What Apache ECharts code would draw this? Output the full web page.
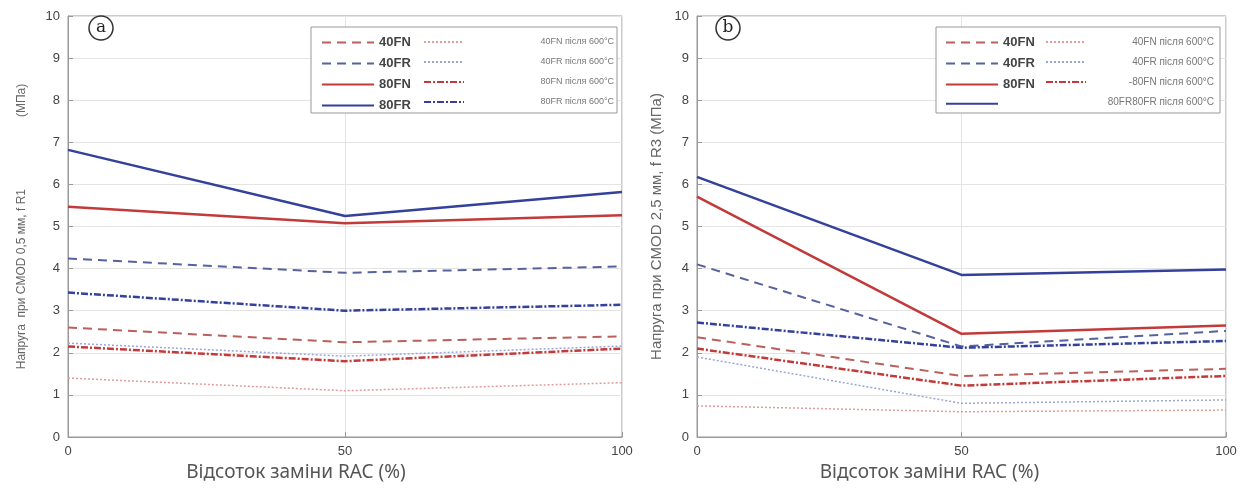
<!DOCTYPE html>
<html>
<head>
<meta charset="utf-8">
<script src="https://cdn.jsdelivr.net/npm/echarts@6/dist/echarts.min.js"></script>
<style>
  html, body { margin: 0; padding: 0; background: #fff; }
  #main { width: 1254px; height: 496px; }
</style>
</head>
<body>
<div id="main"></div>
<script>
// відсоток заміни RAC
var xs = [0, 50, 100];

// (a) CMOD 0,5 мм, f R1
var a40FN = [2.6, 2.25, 2.39];
var a40FR = [4.24, 3.9, 4.05];
var a80FN = [5.47, 5.08, 5.27];
var a80FR = [6.82, 5.25, 5.82];
var a40FN600 = [1.4, 1.1, 1.29];
var a40FR600 = [2.23, 1.92, 2.16];
var a80FN600 = [2.15, 1.8, 2.1];
var a80FR600 = [3.43, 3.0, 3.14];

// (b) CMOD 2,5 мм, f R3
var b40FN = [2.37, 1.45, 1.62];
var b40FR = [4.1, 2.15, 2.52];
var b80FN = [5.71, 2.45, 2.65];
var b80FR = [6.18, 3.85, 3.98];
var b40FN600 = [0.74, 0.6, 0.64];
var b40FR600 = [1.9, 0.8, 0.88];
var b80FN600 = [2.1, 1.22, 1.45];
var b80FR600 = [2.72, 2.12, 2.28];

var RED = '#c23a3a', BLUE = '#34419c';
var RED_D = '#b9605c', BLUE_D = '#56629f';
var RED_L = '#e29c9c', BLUE_L = '#9aa6d6';
var DASH = [9, 6], DOT = [2, 2], DASHDOT = [7, 2, 2, 2];

function pairs(v) { return xs.map(function (x, i) { return [x, v[i]]; }); }

function mk(name, data, color, type, width, idx) {
  return {
    name: name, type: 'line', xAxisIndex: idx, yAxisIndex: idx,
    data: pairs(data), symbol: 'none', silent: true, animation: false,
    lineStyle: { color: color, type: type, width: width },
    itemStyle: { color: color }
  };
}

var series = [
  mk('40FN', a40FN, RED_D, DASH, 2, 0),
  mk('40FR', a40FR, BLUE_D, DASH, 2, 0),
  mk('80FN', a80FN, RED, 'solid', 2.5, 0),
  mk('80FR', a80FR, BLUE, 'solid', 2.5, 0),
  mk('40FN після 600°C', a40FN600, RED_L, DOT, 1.5, 0),
  mk('40FR після 600°C', a40FR600, BLUE_L, DOT, 1.5, 0),
  mk('80FN після 600°C', a80FN600, RED, DASHDOT, 2.5, 0),
  mk('80FR після 600°C', a80FR600, BLUE, DASHDOT, 2.5, 0),

  mk('40FN ', b40FN, RED_D, DASH, 2, 1),
  mk('40FR ', b40FR, BLUE_D, DASH, 2, 1),
  mk('80FN ', b80FN, RED, 'solid', 2.5, 1),
  mk('80FR ', b80FR, BLUE, 'solid', 2.5, 1),
  mk('40FN після 600°C ', b40FN600, RED_L, DOT, 1.5, 1),
  mk('40FR після 600°C ', b40FR600, BLUE_L, DOT, 1.5, 1),
  mk('-80FN після 600°C ', b80FN600, RED, DASHDOT, 2.5, 1),
  mk('80FR80FR після 600°C ', b80FR600, BLUE, DASHDOT, 2.5, 1)
];

function xAx(idx, shift) {
  return {
    type: 'value', gridIndex: idx, min: 0, max: 100, interval: 50,
    name: 'Відсоток заміни RAC (%)', nameLocation: 'middle', nameGap: 22,
    nameTextStyle: { fontSize: 19, color: '#555', fontFamily: 'Noto Sans', padding: [0, shift, 0, 0] },
    axisLine: { show: true, lineStyle: { color: '#999' } },
    axisTick: { show: true, inside: true, length: 5, lineStyle: { color: '#999' } },
    axisLabel: { color: '#444', fontSize: 13, margin: 8, fontFamily: 'Liberation Sans' },
    splitLine: { show: true, lineStyle: { color: '#e4e4e4' } }
  };
}
function yAx(idx, name, size, gap) {
  return {
    type: 'value', gridIndex: idx, min: 0, max: 10, interval: 1,
    name: name, nameLocation: 'middle', nameGap: gap,
    nameTextStyle: { fontSize: size, color: '#666', fontFamily: 'Liberation Sans' },
    axisLine: { show: true, lineStyle: { color: '#999' } },
    axisTick: { show: true, inside: true, length: 5, lineStyle: { color: '#999' } },
    axisLabel: { color: '#444', fontSize: 13, margin: 8, fontFamily: 'Liberation Sans' },
    splitLine: { show: true, lineStyle: { color: '#e4e4e4' } }
  };
}

function legendCol(names, left, w, bold, size, tw, fmt) {
  var ts = { fontSize: size, fontWeight: bold ? 'bold' : 'normal', color: bold ? '#444' : '#777',
    fontFamily: 'Liberation Sans', lineHeight: 12 };
  if (tw) {
    ts.rich = { r: { width: tw, align: 'right', fontSize: size, color: '#777', lineHeight: 12 } };
  }
  return {
    orient: 'vertical', left: left, top: 31, itemWidth: w, itemHeight: 12, itemGap: 8,
    selectedMode: false, data: names,
    formatter: function (n) {
      var t = fmt ? fmt(n) : n;
      return tw ? '{r|' + t + '}' : t;
    },
    itemStyle: { opacity: 0 },
    textStyle: ts
  };
}

var option = {
  animation: false,
  backgroundColor: '#fff',
  grid: [
    { left: 68, right: 632, top: 16, bottom: 59, show: true, borderColor: '#999', borderWidth: 1 },
    { left: 697, right: 28, top: 16, bottom: 59, show: true, borderColor: '#999', borderWidth: 1 }
  ],
  xAxis: [xAx(0, 98), xAx(1, 64)],
  yAxis: [
    yAx(0, 'Напруга  при CMOD 0,5 мм, f R1\u2003\u2003\u2003\u2003\u2003\u2003(МПа)', 12, 40),
    yAx(1, 'Напруга при CMOD 2,5 мм, f R3 (МПа)', 15, 33)
  ],
  legend: [
    legendCol(['40FN', '40FR', '80FN', '80FR'], 316, 52, true, 13, 0),
    legendCol(['40FN після 600°C', '40FR після 600°C', '80FN після 600°C', '80FR після 600°C'],
      418, 40, false, 9, 145),
    legendCol(['40FN ', '40FR ', '80FN ', '80FR '], 940, 52, true, 13, 0,
      function (n) { return n === '80FR ' ? '' : n.trim(); }),
    legendCol(['40FN після 600°C ', '40FR після 600°C ', '-80FN після 600°C ',
      { name: '80FR80FR після 600°C ', lineStyle: { opacity: 0 } }],
      1040, 40, false, 10, 123, function (n) { return n.trim(); })
  ],
  graphic: [
    { type: 'rect', z: 3, shape: { x: 311, y: 27, width: 306, height: 86 },
      style: { fill: '#fff', stroke: '#999', lineWidth: 1 } },
    { type: 'rect', z: 3, shape: { x: 936, y: 27, width: 284, height: 86 },
      style: { fill: '#fff', stroke: '#999', lineWidth: 1 } },
    { type: 'circle', z: 3, shape: { cx: 101, cy: 28, r: 12 },
      style: { fill: '#fff', stroke: '#333', lineWidth: 1.5 } },
    { type: 'text', z: 4, x: 101, y: 28,
      style: { text: 'a', fill: '#222', fontSize: 17, fontFamily: 'DejaVu Serif', align: 'center', verticalAlign: 'middle' } },
    { type: 'circle', z: 3, shape: { cx: 728, cy: 28, r: 12 },
      style: { fill: '#fff', stroke: '#333', lineWidth: 1.5 } },
    { type: 'text', z: 4, x: 728, y: 28,
      style: { text: 'b', fill: '#222', fontSize: 17, fontFamily: 'DejaVu Serif', align: 'center', verticalAlign: 'middle' } }
  ],
  series: series
};

var chart = echarts.init(document.getElementById('main'));
chart.setOption(option);
</script>
</body>
</html>
